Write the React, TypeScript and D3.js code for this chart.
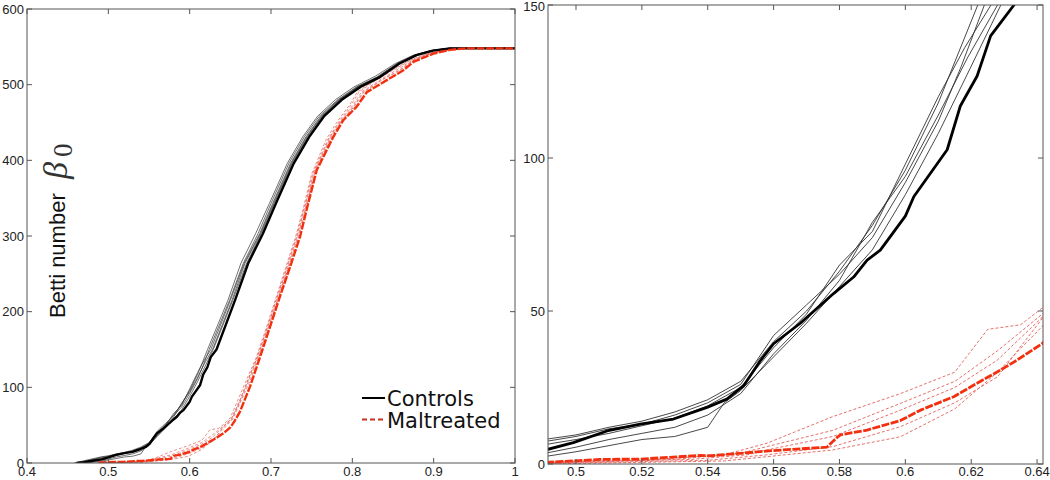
import React from "react";
import * as d3 from "d3";

type Pt = [number, number];

// ---- Data (threshold, Betti number beta0) ----
const controlThick: Pt[] = [[0.461,0],[0.47,1],[0.48,3],[0.4915,4.8],[0.4992,7],[0.5094,10.8],[0.5195,13],[0.5296,14.7],[0.5398,18.5],[0.5458,21.2],[0.5509,25.6],[0.556,33.8],[0.56,39.3],[0.5681,46],[0.5782,55.7],[0.5843,61.1],[0.5884,66.6],[0.5924,69.9],[0.6,81],[0.6026,87.4],[0.6127,102.7],[0.6167,117],[0.6218,126.8],[0.6259,139.9],[0.633,150],[0.6557,215],[0.672,264],[0.69,303],[0.706,343],[0.728,396],[0.747,431],[0.765,458],[0.787,480],[0.81,497],[0.834,510],[0.858,528],[0.879,539],[0.899,545],[0.92,548],[1.0,548]];

const controlThin1: Pt[] = [[0.458,0],[0.47,3],[0.4915,8.2],[0.5,9.5],[0.51,12],[0.52,14],[0.53,17],[0.54,21],[0.55,27],[0.56,40],[0.57,50],[0.58,63],[0.59,78],[0.6,96],[0.61,118],[0.616,134],[0.622,150],[0.647,215],[0.663,264],[0.681,303],[0.698,343],[0.72,396],[0.739,431],[0.757,458],[0.779,480],[0.802,497],[0.828,511],[0.853,528],[0.875,539],[0.896,545],[0.918,548],[1,548]];
const controlThin2: Pt[] = [[0.46,0],[0.475,3],[0.4915,7.5],[0.5,9],[0.51,11.5],[0.52,13],[0.53,16],[0.54,20],[0.55,26],[0.56,42],[0.57,52],[0.58,62],[0.59,74],[0.6,92],[0.61,112],[0.617,130],[0.624,150],[0.649,215],[0.666,264],[0.684,303],[0.7,343],[0.722,396],[0.741,431],[0.759,458],[0.782,480],[0.805,497],[0.83,510],[0.855,528],[0.876,539],[0.897,545],[0.918,548],[1,548]];
const controlThin3: Pt[] = [[0.463,0],[0.478,2.5],[0.4915,6.5],[0.5,8],[0.51,10],[0.52,12.5],[0.53,15],[0.54,19],[0.55,25],[0.56,38],[0.57,49],[0.58,65],[0.59,76],[0.6,98],[0.61,120],[0.618,136],[0.626,150],[0.65,215],[0.667,264],[0.686,303],[0.702,343],[0.724,396],[0.743,431],[0.761,458],[0.783,480],[0.806,497],[0.831,510],[0.856,528],[0.877,539],[0.898,545],[0.919,548],[1,548]];
const controlThin4: Pt[] = [[0.468,0],[0.48,1.5],[0.4915,3.7],[0.5,5.5],[0.51,8],[0.52,10],[0.53,12],[0.54,16],[0.55,23],[0.56,36],[0.57,47],[0.58,60],[0.59,79],[0.6,94],[0.61,114],[0.619,133],[0.628,150],[0.652,215],[0.668,264],[0.687,303],[0.703,343],[0.725,396],[0.744,431],[0.762,458],[0.784,480],[0.807,497],[0.832,510],[0.857,528],[0.878,539],[0.898,545],[0.919,548],[1,548]];
const controlThin5: Pt[] = [[0.47,0],[0.482,1],[0.4915,2.6],[0.5,4],[0.51,6],[0.52,8],[0.53,9],[0.54,12],[0.545,20],[0.55,24],[0.56,35],[0.57,46],[0.58,58],[0.59,70],[0.6,88],[0.61,108],[0.62,130],[0.629,150],[0.653,215],[0.67,264],[0.688,303],[0.704,343],[0.726,396],[0.745,431],[0.763,458],[0.785,480],[0.808,497],[0.833,510],[0.857,528],[0.878,539],[0.899,545],[0.92,548],[1,548]];

const maltThick: Pt[] = [[0.488,0],[0.4918,0.6],[0.5073,1.5],[0.5196,1.6],[0.5377,2.8],[0.5409,2.7],[0.56,4.4],[0.5762,5.5],[0.5793,8.7],[0.5803,9.5],[0.5884,11.1],[0.5985,14.2],[0.6046,17.6],[0.6147,22],[0.6208,25.8],[0.6289,30.7],[0.634,34],[0.6416,39.4],[0.65,47],[0.655,55],[0.6619,68],[0.6742,101],[0.6865,140],[0.6988,180],[0.711,220],[0.7234,259],[0.7357,299],[0.745,340],[0.7562,387],[0.7766,431],[0.7889,453],[0.8054,471],[0.8177,490],[0.8423,506],[0.8627,519],[0.875,530],[0.8996,541],[0.92,546],[0.94,548],[1,548]];

const maltThin1: Pt[] = [[0.485,0],[0.4915,0.8],[0.52,1.2],[0.545,3],[0.558,6.8],[0.578,15.5],[0.5985,23],[0.615,30],[0.62,37],[0.625,44],[0.635,45.5],[0.6416,51],[0.65,60],[0.66,85],[0.67,110],[0.682,140],[0.694,178],[0.706,218],[0.718,258],[0.73,298],[0.74,338],[0.75,382],[0.768,428],[0.782,452],[0.797,474],[0.806,490],[0.83,508],[0.853,522],[0.87,532],[0.895,542],[0.915,546],[0.935,548],[1,548]];
const maltThin2: Pt[] = [[0.487,0],[0.4915,0.5],[0.53,1.5],[0.55,3.5],[0.558,5.7],[0.578,11],[0.5985,19.8],[0.615,27],[0.628,37],[0.6416,49],[0.651,58],[0.661,80],[0.671,108],[0.683,140],[0.695,178],[0.707,218],[0.719,258],[0.731,298],[0.741,338],[0.751,382],[0.77,428],[0.784,452],[0.799,474],[0.808,490],[0.832,508],[0.855,522],[0.871,532],[0.896,542],[0.916,546],[0.936,548],[1,548]];
const maltThin3: Pt[] = [[0.488,0],[0.4915,0.3],[0.535,1.5],[0.552,3],[0.558,4.6],[0.578,9],[0.5985,17.6],[0.615,25],[0.628,34],[0.6416,48],[0.652,60],[0.662,84],[0.672,110],[0.684,142],[0.696,180],[0.708,220],[0.72,259],[0.732,299],[0.742,340],[0.753,385],[0.772,430],[0.786,453],[0.801,473],[0.811,490],[0.835,507],[0.857,521],[0.872,531],[0.897,542],[0.917,546],[0.937,548],[1,548]];
const maltThin4: Pt[] = [[0.489,0],[0.4915,0.2],[0.54,1.2],[0.558,3],[0.578,5.7],[0.5985,12.2],[0.615,20],[0.628,28.5],[0.6416,47.6],[0.652,58],[0.663,84],[0.673,110],[0.685,142],[0.697,180],[0.709,220],[0.721,259],[0.733,299],[0.743,340],[0.754,386],[0.773,430],[0.787,453],[0.802,472],[0.813,490],[0.837,507],[0.859,520],[0.873,531],[0.898,542],[0.918,546],[0.938,548],[1,548]];
const maltThin5: Pt[] = [[0.49,0],[0.545,1],[0.558,2.4],[0.578,4.6],[0.5985,8.9],[0.615,18],[0.628,30],[0.6416,45],[0.653,58],[0.664,84],[0.674,108],[0.686,142],[0.698,180],[0.71,220],[0.722,259],[0.734,299],[0.744,340],[0.755,386],[0.774,430],[0.788,453],[0.803,472],[0.814,490],[0.838,507],[0.86,520],[0.874,531],[0.899,542],[0.919,546],[0.939,548],[1,548]];

const controlThins = [controlThin1, controlThin2, controlThin3, controlThin4, controlThin5];
const maltThins = [maltThin1, maltThin2, maltThin3, maltThin4, maltThin5];

const leftXTicks = [0.4, 0.5, 0.6, 0.7, 0.8, 0.9, 1.0];
const leftXLabels = ["0.4", "0.5", "0.6", "0.7", "0.8", "0.9", "1"];
const leftYTicks = [0, 100, 200, 300, 400, 500, 600];
const rightXTicks = [0.5, 0.52, 0.54, 0.56, 0.58, 0.6, 0.62, 0.64];
const rightXLabels = ["0.5", "0.52", "0.54", "0.56", "0.58", "0.6", "0.62", "0.64"];
const rightYTicks = [0, 50, 100, 150];

const legendLabels = ["Controls", "Maltreated"];

const AXIS = "#555";
const RED = "#f2300f";
const RED_THIN = "#e0605a";
const TICK_FONT = "'Liberation Sans', Arial, sans-serif";

type PanelProps = {
  id: string;
  x: d3.ScaleLinear<number, number>;
  y: d3.ScaleLinear<number, number>;
  xTicks: number[];
  xLabels: string[];
  yTicks: number[];
  thickW: number;
  thinW: number;
};

function Panel({ id, x, y, xTicks, xLabels, yTicks, thickW, thinW }: PanelProps) {
  const [x0, x1] = x.range();
  const [y0, y1] = y.range(); // y0 bottom, y1 top
  const line = d3.line<Pt>().x((d) => x(d[0])).y((d) => y(d[1]));
  const tl = 5;
  return (
    <g>
      <defs>
        <clipPath id={id}>
          <rect x={x0} y={y1} width={x1 - x0} height={y0 - y1} />
        </clipPath>
      </defs>
      <g clipPath={`url(#${id})`} fill="none" strokeLinejoin="round">
        {controlThins.map((c, i) => (
          <path key={"ct" + i} d={line(c) || ""} stroke="#333" strokeWidth={thinW} />
        ))}
        {maltThins.map((c, i) => (
          <path key={"mt" + i} d={line(c) || ""} stroke={RED_THIN} strokeWidth={thinW} strokeDasharray="3,2" />
        ))}
        <path d={line(controlThick) || ""} stroke="#000" strokeWidth={thickW} />
        <path d={line(maltThick) || ""} stroke={RED} strokeWidth={thickW} strokeDasharray="8,1.5" />
      </g>
      <rect x={x0} y={y1} width={x1 - x0} height={y0 - y1} fill="none" stroke={AXIS} strokeWidth={1} />
      {xTicks.map((t, i) => (
        <g key={"xt" + i}>
          <line x1={x(t)} x2={x(t)} y1={y0} y2={y0 - tl} stroke={AXIS} />
          <line x1={x(t)} x2={x(t)} y1={y1} y2={y1 + tl} stroke={AXIS} />
          <text x={x(t)} y={475.5} textAnchor="middle" fontSize={13} fontFamily={TICK_FONT} fill="#222">
            {xLabels[i]}
          </text>
        </g>
      ))}
      {yTicks.map((t, i) => (
        <g key={"yt" + i}>
          <line x1={x0} x2={x0 + tl} y1={y(t)} y2={y(t)} stroke={AXIS} />
          <line x1={x1} x2={x1 - tl} y1={y(t)} y2={y(t)} stroke={AXIS} />
          <text x={x0 - 3} y={Math.max(y(t), 6)} dy="0.35em" textAnchor="end" fontSize={13} fontFamily={TICK_FONT} fill="#222">
            {String(t)}
          </text>
        </g>
      ))}
    </g>
  );
}

export default function App() {
  const xL = d3.scaleLinear().domain([0.4, 1.0]).range([27, 515]);
  const yL = d3.scaleLinear().domain([0, 600]).range([463, 9]);
  const xR = d3.scaleLinear().domain([0.4915, 0.6418]).range([548, 1043]);
  const yR = d3.scaleLinear().domain([0, 150]).range([464, 5]);

  return (
    <svg
      width={1050}
      height={480}
      style={{ position: "absolute", left: 0, top: 0, background: "#fff" }}
    >
      <rect x={0} y={0} width={1050} height={480} fill="#fff" />
      <Panel id="clipL" x={xL} y={yL} xTicks={leftXTicks} xLabels={leftXLabels} yTicks={leftYTicks} thickW={2.4} thinW={0.7} />
      <Panel id="clipR" x={xR} y={yR} xTicks={rightXTicks} xLabels={rightXLabels} yTicks={rightYTicks} thickW={2.8} thinW={0.9} />

      {/* y-axis label */}
      <text transform="translate(64.5,318) rotate(-90)" fontSize={22} fontFamily={TICK_FONT} fill="#111">
        Betti number
      </text>
      <text transform="translate(67,179) rotate(-90)" fontSize={34} fontStyle="italic" fontFamily="'Liberation Serif', 'DejaVu Serif', serif" fill="#333">
        β
      </text>
      <text transform="translate(72,157) rotate(-90)" fontSize={27} fontFamily="'Liberation Serif', 'DejaVu Serif', serif" fill="#333">
        0
      </text>

      {/* legend */}
      <line x1={362} x2={385} y1={398} y2={398} stroke="#000" strokeWidth={2} />
      <text x={387} y={405.5} fontSize={21} fontFamily="'DejaVu Sans', sans-serif" fill="#111">
        {legendLabels[0]}
      </text>
      <line x1={362} x2={385} y1={419.5} y2={419.5} stroke="#c8321e" strokeWidth={2} strokeDasharray="5,3" />
      <text x={387} y={428} fontSize={21} fontFamily="'DejaVu Sans', sans-serif" fill="#111">
        {legendLabels[1]}
      </text>
    </svg>
  );
}
